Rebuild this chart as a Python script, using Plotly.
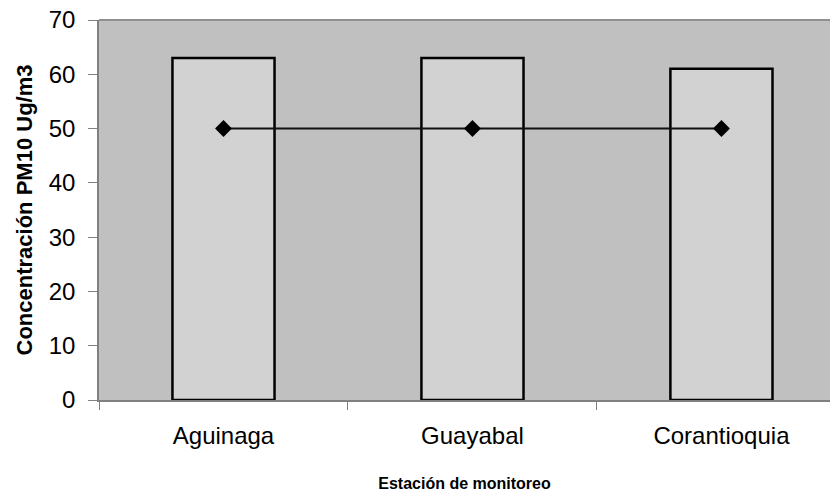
import plotly.graph_objects as go

categories = ["Aguinaga", "Guayabal", "Corantioquia"]
pm10_values = [63, 63, 61]
norma_values = [50, 50, 50]
y_ticks = [0, 10, 20, 30, 40, 50, 60, 70]

fig = go.Figure()
fig.add_trace(go.Bar(
    x=categories, y=pm10_values, width=0.41,
    marker=dict(color="#d2d2d2", line=dict(color="black", width=2.5)),
    showlegend=False,
))
fig.add_trace(go.Scatter(
    x=categories, y=norma_values, mode="lines+markers",
    line=dict(color="#111111", width=2),
    marker=dict(symbol="diamond", size=13, color="black"),
    showlegend=False,
))

fig.update_layout(
    width=830, height=492,
    margin=dict(l=99, r=0, t=20, b=92),
    paper_bgcolor="white", plot_bgcolor="#c0c0c0",
    font=dict(family="Liberation Sans, Arial, sans-serif", color="black"),
    xaxis=dict(
        range=[-0.5, 2.436], tickson="boundaries", ticks="outside", ticklen=8,
        tickcolor="#808080", showline=True, linecolor="#808080", linewidth=1.5,
        tickfont=dict(size=24), showgrid=False, ticklabelstandoff=13,
        title=dict(text="<b>Estación de monitoreo</b>", font=dict(size=16), standoff=31),
    ),
    yaxis=dict(
        range=[0, 70], tickvals=y_ticks, ticks="outside", ticklen=9,
        tickcolor="#808080", showline=True, linecolor="#808080", linewidth=1.5,
        tickfont=dict(size=24), showgrid=False, zeroline=False, ticklabelstandoff=8,
        title=dict(text="<b>Concentración PM10 Ug/m3</b>", font=dict(size=22), standoff=10),
    ),
    shapes=[dict(type="line", xref="paper", yref="paper", x0=0, x1=1, y0=1, y1=1,
                 line=dict(color="#909090", width=2))],
)

fig.write_html("out.html", config={"displayModeBar": False},
               post_script="document.body.style.margin='0';")
